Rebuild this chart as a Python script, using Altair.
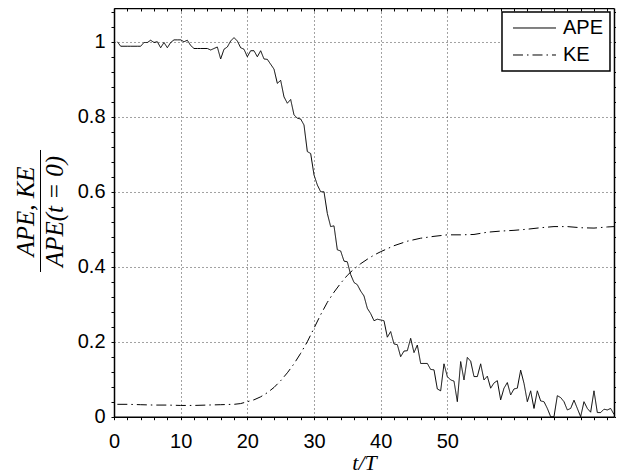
import altair as alt
import pandas as pd

# ---- data ----
ape_t = [i * 0.5 for i in range(1, 151)]
ape_v = [
    1.000, 0.988, 0.988, 0.988, 0.988, 0.988, 0.988, 0.988, 0.998, 0.998,
    1.004, 0.998, 1.000, 0.984, 0.998, 0.984, 0.998, 1.005, 1.005, 1.005,
    1.000, 1.004, 0.990, 0.982, 0.982, 0.982, 0.982, 0.982, 0.978, 0.982,
    0.986, 0.954, 0.980, 0.986, 1.002, 1.011, 1.002, 0.984, 0.980, 0.960,
    0.976, 0.976, 0.960, 0.976, 0.954, 0.953, 0.940, 0.927, 0.889, 0.897,
    0.853, 0.836, 0.846, 0.805, 0.796, 0.794, 0.778, 0.707, 0.702, 0.645,
    0.618, 0.600, 0.600, 0.542, 0.507, 0.509, 0.445, 0.442, 0.415, 0.413,
    0.379, 0.358, 0.352, 0.335, 0.322, 0.289, 0.275, 0.256, 0.260, 0.258,
    0.256, 0.212, 0.227, 0.194, 0.192, 0.160, 0.175, 0.176, 0.209, 0.171,
    0.191, 0.142, 0.142, 0.142, 0.126, 0.125, 0.074, 0.069, 0.141, 0.107,
    0.098, 0.095, 0.040, 0.147, 0.098, 0.158, 0.148, 0.107, 0.107, 0.141,
    0.098, 0.108, 0.076, 0.090, 0.096, 0.045, 0.076, 0.091, 0.058, 0.074,
    0.076, 0.124, 0.089, 0.040, 0.069, 0.022, 0.069, 0.042, 0.040, 0.022,
    0.000, 0.000, 0.056, 0.051, 0.040, 0.018, 0.022, 0.044, 0.022, 0.000,
    0.040, 0.022, 0.012, 0.069, 0.011, 0.011, 0.020, 0.018, 0.022, 0.006,
]
ke_t = [0.5, 2, 4, 6, 8, 10, 12, 14, 16, 18, 19, 20, 21, 22, 23, 24, 25, 26,
        27, 28, 29, 30, 31, 32, 33, 34, 35, 36, 37, 38, 39, 40, 42, 44, 46,
        48, 50, 52, 54, 56, 58, 60, 62, 64, 66, 68, 70, 72, 74, 75]
ke_v = [0.033, 0.033, 0.032, 0.031, 0.031, 0.030, 0.030, 0.031, 0.032, 0.033,
        0.035, 0.040, 0.045, 0.053, 0.064, 0.078, 0.096, 0.117, 0.141, 0.169,
        0.200, 0.236, 0.272, 0.305, 0.332, 0.356, 0.377, 0.394, 0.408, 0.420,
        0.431, 0.440, 0.456, 0.468, 0.476, 0.481, 0.485, 0.485, 0.486, 0.492,
        0.495, 0.497, 0.500, 0.504, 0.507, 0.507, 0.504, 0.503, 0.506, 0.507]

series_names = ["APE", "KE"]
x_ticks = list(range(0, 76, 2))
y_ticks = [round(i * 0.04, 2) for i in range(28)]

ape_df = pd.DataFrame({"t": ape_t, "v": ape_v, "series": "APE"})
ke_df = pd.DataFrame({"t": ke_t, "v": ke_v, "series": "KE"})

W = 500
H = 408.7
SANS = "Liberation Sans"
SERIF = "Liberation Serif"

xscale = alt.Scale(domain=[0, 75], nice=False, zero=False)
yscale = alt.Scale(domain=[0, 1.09], nice=False, zero=False)

legend = alt.Legend(
    title=None, orient="none", legendX=388, legendY=4,
    symbolType="M-1,0H7.6", symbolSize=100, symbolStrokeWidth=1,
    labelFont=SANS, labelFontSize=20, labelColor="black", labelOffset=35,
    padding=6, rowPadding=7, strokeColor="black", fillColor="white",
)
color = alt.Color("series:N", scale=alt.Scale(domain=series_names, range=["black", "black"]), legend=legend)
dash = alt.StrokeDash("series:N", scale=alt.Scale(domain=series_names, range=[[1, 0], [10, 4, 1.5, 4]]), legend=legend)

grid_x = "datum.value % 10 == 0 && datum.value > 0 && datum.value <= 50"
grid_y = "abs(datum.value*5 - round(datum.value*5)) < 0.001 && datum.value > 0.01"

x_main = alt.Axis(
    values=x_ticks, orient="bottom", title="t/T", titleFont=SERIF, titleFontStyle="italic",
    titleFontSize=22, titleFontWeight="normal", titleColor="black", titlePadding=1,
    labelExpr="datum.value % 10 == 0 && datum.value <= 50 ? datum.label : ''",
    labelFont=SANS, labelFontSize=20, labelColor="black", labelPadding=12, labelFlush=False,
    labelOverlap=False, tickSize=3, tickColor="black", domainColor="black", domainWidth=1.5,
    grid=True, gridColor="#444", gridDash=[1, 3], gridWidth=1,
    gridOpacity={"condition": {"test": grid_x, "value": 1}, "value": 0},
)
y_main = alt.Axis(
    values=y_ticks, orient="left", title=["APE, KE", "APE(t = 0)"], titleFont=SERIF,
    titleFontStyle="italic", titleFontSize=25, titleFontWeight="normal", titleColor="black",
    titleAngle=270, titleX=-88.5, titleY=203, titleAlign="center", titleBaseline="middle",
    titleLineHeight=29,
    labelExpr="abs(datum.value*5 - round(datum.value*5)) < 0.001 ? format(datum.value, '~g') : ''",
    labelFont=SANS, labelFontSize=20, labelColor="black", labelPadding=6, labelFlush=False,
    labelOverlap=False, tickSize=3, tickColor="black", domainColor="black", domainWidth=1.5,
    grid=True, gridColor="#444", gridDash=[1, 3], gridWidth=1,
    gridOpacity={"condition": {"test": grid_y, "value": 1}, "value": 0},
)
x_top = alt.Axis(values=x_ticks, orient="bottom", offset=-H, title=None, labels=False,
                 tickSize=3, tickColor="black", domainColor="black", domainWidth=1.5, grid=False)
y_right = alt.Axis(values=y_ticks, orient="right", title=None, labels=False,
                   tickSize=3, tickColor="black", domainColor="black", domainWidth=1.5, grid=False)

ape = alt.Chart(ape_df).mark_line(strokeWidth=1).encode(
    x=alt.X("t:Q", scale=xscale, axis=x_main),
    y=alt.Y("v:Q", scale=yscale, axis=y_main),
    color=color, strokeDash=dash,
)
ke = alt.Chart(ke_df).mark_line(strokeWidth=1).encode(
    x=alt.X("t:Q", scale=xscale, axis=x_top),
    y=alt.Y("v:Q", scale=yscale, axis=y_right),
    color=color, strokeDash=dash,
)
bar = alt.Chart(pd.DataFrame({"a": [0]})).mark_rule(color="black", strokeWidth=1).encode(
    x=alt.value(-73.5), y=alt.value(142), y2=alt.value(264)
)

chart = alt.layer(ape, ke, bar).resolve_axis(x="independent", y="independent").properties(
    width=W, height=H,
    padding={"left": 106, "top": 0, "right": 2, "bottom": 58},
    autosize=alt.AutoSizeParams(type="none"),
).configure_view(stroke=None).configure_legend(strokeWidth=1.5)

chart.save("out.html", embed_options={"renderer": "svg", "actions": False})
